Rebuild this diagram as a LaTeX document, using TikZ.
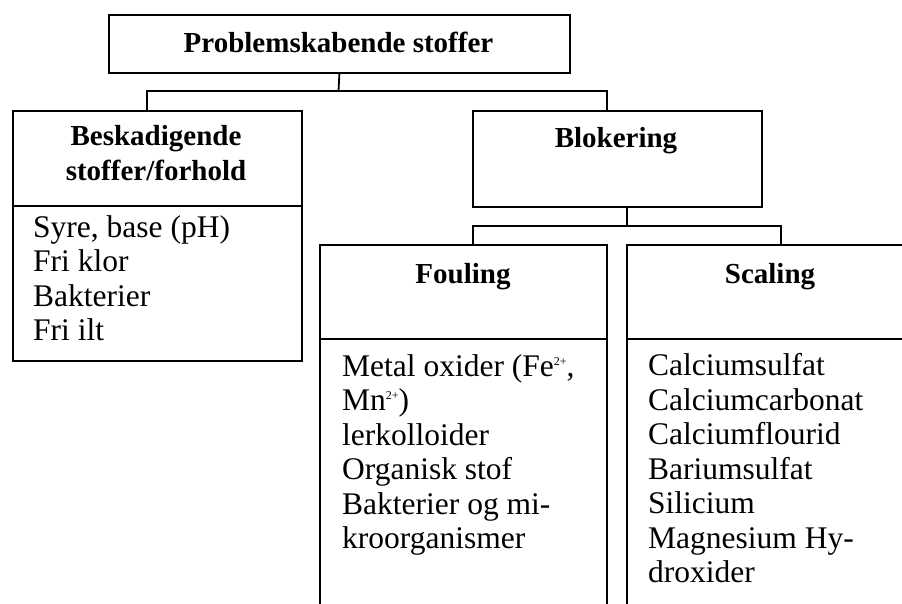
\documentclass[tikz,border=0pt]{standalone}
\usepackage{fontspec}
\setmainfont{Liberation Serif}
\newcommand{\supsc}[1]{\raisebox{11pt}{\fontsize{12}{12}\selectfont #1}}
\begin{document}
\begin{tikzpicture}[x=1pt,y=-1pt,
  box/.style={draw,line width=1.8pt,rectangle,inner sep=0pt,anchor=north west},
  wire/.style={line width=1.8pt},
  head/.style={font=\fontsize{29}{34.5}\bfseries\selectfont,inner sep=0pt,anchor=base},
  body/.style={font=\fontsize{31.5}{34.5}\selectfont,inner sep=0pt,anchor=base west}]
\useasboundingbox (0,0) rectangle (902,603);
\clip (0,0) rectangle (902,603);
% boxes
\node[box,minimum width=461pt,minimum height=58pt] (top) at (108,14) {};
\node[box,minimum width=289pt,minimum height=250pt] (left) at (12,110) {};
\node[box,minimum width=289pt,minimum height=96pt] (blok) at (472,110) {};
\node[box,minimum width=287pt,minimum height=420pt] (foul) at (319,244) {};
\node[box,minimum width=300pt,minimum height=420pt] (scal) at (626,244) {};
% dividers
\coordinate (ld) at (0,206);
\coordinate (fd) at (0,339);
\draw[wire] (left.west |- ld) -- (left.east |- ld);
\draw[wire] (foul.west |- fd) -- (foul.east |- fd);
\draw[wire] (scal.west |- fd) -- (scal.east |- fd);
% connectors
\coordinate (j1) at (338.5,91);
\coordinate (lt) at (147,110);
\coordinate (bt) at (607,110);
\draw[wire] (top.south) -- (j1);
\draw[wire] (lt) |- (j1) -| (bt);
\coordinate (j2) at (627,226);
\coordinate (ft) at (473,244);
\coordinate (st) at (781,244);
\draw[wire] (blok.south -| j2) -- (j2);
\draw[wire] (ft) |- (j2) -| (st);
% headings
\node[head] (tTop) at (338.5,52) {Problemskabende stoffer};
\node[head] (tL1) at (156,145) {Beskadigende};
\node[head] (tL2) at (156,180) {stoffer/forhold};
\node[head] (tB) at (616,147) {Blokering};
\node[head] (tF) at (463,283) {Fouling};
\node[head] (tS) at (770,283) {Scaling};
% left body
\node[body] (l1) at (33,237) {Syre, base (pH)};
\node[body] (l2) at (33,271.5) {Fri klor};
\node[body] (l3) at (33,306) {Bakterier};
\node[body] (l4) at (33,340.5) {Fri ilt};
% fouling body
\node[body] (f1) at (342,376) {Metal oxider (Fe\supsc{2+},};
\node[body] (f2) at (342,410.5) {Mn\supsc{2+})};
\node[body] (f3) at (342,445) {lerkolloider};
\node[body] (f4) at (342,479.5) {Organisk stof};
\node[body] (f5) at (342,514) {Bakterier og mi-};
\node[body] (f6) at (342,548.5) {kroorganismer};
% scaling body
\node[body] (s1) at (648,375.5) {Calciumsulfat};
\node[body] (s2) at (648,410) {Calciumcarbonat};
\node[body] (s3) at (648,444.5) {Calciumflourid};
\node[body] (s4) at (648,479) {Bariumsulfat};
\node[body] (s5) at (648,513.5) {Silicium};
\node[body] (s6) at (648,548) {Magnesium Hy-};
\node[body] (s7) at (648,582.5) {droxider};
\end{tikzpicture}
\end{document}
